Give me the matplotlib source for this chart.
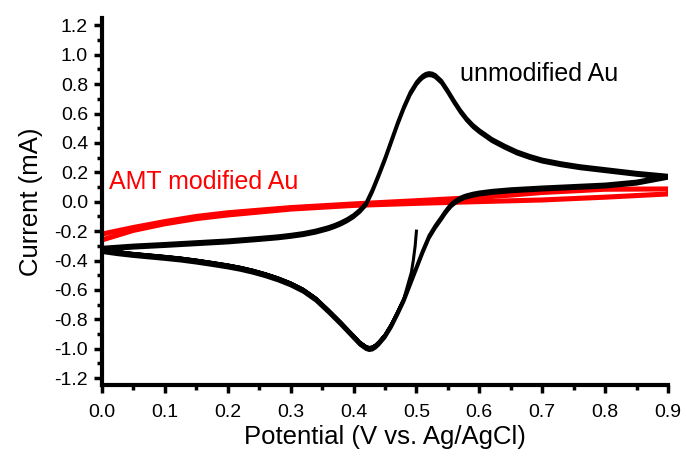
import matplotlib
matplotlib.use("Agg")
import matplotlib.pyplot as plt
from matplotlib.ticker import MultipleLocator, FormatStrFormatter

plt.rcParams['font.family'] = ['Liberation Sans', 'DejaVu Sans']

# === DATA: bare Au electrode (potential in V, current in mA) ===
# first sweep starts at 0.5 V and goes negative
start_v = [0.500, 0.498, 0.495, 0.492]
start_i = [-0.20, -0.30, -0.40, -0.48]

# cathodic branch, 0.9 V -> 0 V
cath_v = [0.90, 0.85, 0.80, 0.75, 0.70, 0.65, 0.62, 0.60, 0.59, 0.58, 0.575,
          0.57, 0.565, 0.56, 0.555, 0.55, 0.545, 0.54, 0.53, 0.52, 0.51, 0.50,
          0.49, 0.48, 0.47, 0.46, 0.45, 0.44, 0.435, 0.43, 0.425, 0.42, 0.41,
          0.40, 0.38, 0.36, 0.34, 0.32, 0.30, 0.28, 0.26, 0.24, 0.22, 0.20,
          0.175, 0.15, 0.125, 0.10, 0.075, 0.05, 0.025, 0.00]
cath_i = [0.18, 0.14, 0.12, 0.11, 0.10, 0.088, 0.077, 0.066, 0.058, 0.047, 0.04,
          0.03, 0.018, 0.003, -0.015, -0.04, -0.068, -0.10, -0.16, -0.23, -0.33, -0.44,
          -0.55, -0.66, -0.75, -0.835, -0.905, -0.955, -0.975, -0.988, -0.992, -0.985, -0.955,
          -0.91, -0.82, -0.735, -0.655, -0.595, -0.552, -0.518, -0.49, -0.466, -0.446, -0.43,
          -0.413, -0.397, -0.383, -0.372, -0.362, -0.352, -0.34, -0.325]

# anodic branch, 0 V -> 0.9 V
anod_v = [0.00, 0.05, 0.10, 0.15, 0.20, 0.25, 0.28, 0.30, 0.32, 0.34, 0.36,
          0.37, 0.38, 0.39, 0.40, 0.41, 0.42, 0.43, 0.44, 0.45, 0.46, 0.47,
          0.48, 0.49, 0.50, 0.505, 0.51, 0.515, 0.52, 0.525, 0.53, 0.54, 0.55,
          0.56, 0.57, 0.58, 0.59, 0.60, 0.62, 0.64, 0.66, 0.68, 0.70, 0.73,
          0.76, 0.80, 0.85, 0.90]
anod_i = [-0.31, -0.295, -0.284, -0.272, -0.26, -0.243, -0.232, -0.222, -0.21, -0.193, -0.17,
          -0.155, -0.137, -0.115, -0.088, -0.052, -0.005, 0.085, 0.19, 0.30, 0.42, 0.54,
          0.65, 0.745, 0.815, 0.84, 0.86, 0.873, 0.878, 0.875, 0.865, 0.825, 0.76,
          0.69, 0.625, 0.57, 0.525, 0.49, 0.43, 0.385, 0.345, 0.315, 0.29, 0.265,
          0.245, 0.225, 0.20, 0.18]

# small current drift between successive cycles (mA)
bare_drift = [0.0, -0.02]

# === DATA: AMT modified Au ===
amt_fwd_v = [0.00, 0.05, 0.10, 0.15, 0.20, 0.30, 0.40, 0.50, 0.60, 0.65, 0.70, 0.80, 0.90]
amt_fwd_i = [-0.215, -0.17, -0.13, -0.095, -0.07, -0.035, -0.01, 0.012, 0.035, 0.05, 0.068, 0.09, 0.092]
amt_rev_v = [0.90, 0.80, 0.70, 0.60, 0.50, 0.40, 0.30, 0.20, 0.15, 0.10, 0.05, 0.00]
amt_rev_i = [0.058, 0.036, 0.017, 0.006, -0.006, -0.02, -0.045, -0.085, -0.11, -0.145, -0.19, -0.255]
amt_drift = [0.0, -0.01]

# === PLOT ===
fig = plt.figure(figsize=(6.86, 4.62), dpi=100)
ax = fig.add_axes([0.1487, 0.1656, 0.825, 0.7955])

for d in amt_drift:
    ax.plot(amt_fwd_v + amt_rev_v, [c + d for c in amt_fwd_i + amt_rev_i],
            color='red', lw=2.6, solid_joinstyle='round', zorder=2)

# first sweep from 0.5 V down to 0 V, then full cycles
v = start_v + [x for x in cath_v if x < 0.49]
i = start_i + [c for x, c in zip(cath_v, cath_i) if x < 0.49]
for d in bare_drift:
    v = v + anod_v + cath_v
    i = i + [c + d for c in anod_i] + [c + d for c in cath_i]
ax.plot(v, i, color='black', lw=2.2, solid_joinstyle='round', zorder=3)

ax.set_xlim(0, 0.9)
ax.set_ylim(-1.25, 1.25)
ax.xaxis.set_major_locator(MultipleLocator(0.1))
ax.xaxis.set_minor_locator(MultipleLocator(0.05))
ax.yaxis.set_major_locator(MultipleLocator(0.2))
ax.yaxis.set_minor_locator(MultipleLocator(0.1))
ax.xaxis.set_major_formatter(FormatStrFormatter('%.1f'))
ax.yaxis.set_major_formatter(FormatStrFormatter('%.1f'))

for s in ['top', 'right']:
    ax.spines[s].set_visible(False)
for s in ['left', 'bottom']:
    ax.spines[s].set_linewidth(3)

ax.tick_params(which='major', direction='out', length=6, width=2.5, labelsize=14, pad=4)
ax.tick_params(which='minor', direction='out', length=3.5, width=2.5)
ax.tick_params(axis='x', which='major', pad=7)

ax.set_xlabel('Potential (V vs. Ag/AgCl)', fontsize=18.5, labelpad=3)
ax.set_ylabel('Current (mA)', fontsize=18.5, labelpad=8)

ax.text(0.569, 0.87, 'unmodified Au', fontsize=18, color='black', va='center', ha='left')
ax.text(0.011, 0.135, 'AMT modified Au', fontsize=18, color='red', va='center', ha='left')

fig.savefig('out.png', dpi=100)
